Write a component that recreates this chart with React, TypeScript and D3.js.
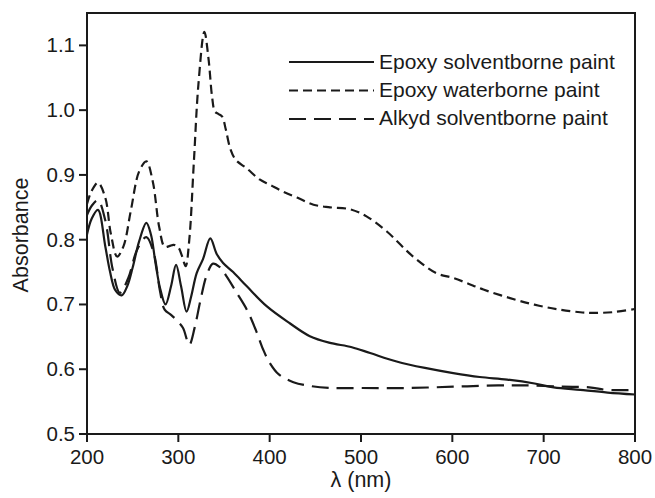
import React from "react";
import * as d3 from "d3";

// ---- data ----
const solidLambda = [200, 205, 212, 220, 225, 231, 238, 244, 250, 257, 265, 270, 275, 280, 286, 292, 297.5, 303, 309, 314, 320, 327, 335, 342, 349, 360, 375, 397, 422, 444, 465, 490, 510, 539, 570, 601, 630, 660, 690, 711, 740, 770, 800];
const solidValues = [0.808, 0.832, 0.846, 0.790, 0.752, 0.722, 0.714, 0.728, 0.757, 0.797, 0.826, 0.808, 0.764, 0.725, 0.700, 0.728, 0.761, 0.728, 0.689, 0.712, 0.748, 0.770, 0.802, 0.778, 0.764, 0.750, 0.728, 0.697, 0.671, 0.651, 0.641, 0.634, 0.625, 0.612, 0.602, 0.594, 0.588, 0.584, 0.578, 0.572, 0.568, 0.564, 0.561];

const waterLambda = [200, 205, 212, 220, 226, 233, 240, 248, 257, 265, 272, 279, 285, 290, 295, 300, 304, 308, 312, 317, 322, 328.5, 333, 337, 340, 344, 348, 352, 357, 363, 375, 389, 400, 415, 430, 448, 466, 488, 506, 528, 557, 583, 601, 616, 634, 670, 695, 718, 740, 754, 775, 800];
const waterValues = [0.855, 0.875, 0.888, 0.865, 0.810, 0.774, 0.790, 0.845, 0.905, 0.921, 0.890, 0.820, 0.789, 0.790, 0.792, 0.788, 0.775, 0.759, 0.800, 0.920, 1.040, 1.121, 1.080, 1.020, 0.998, 0.994, 0.990, 0.970, 0.940, 0.923, 0.910, 0.893, 0.885, 0.874, 0.865, 0.854, 0.850, 0.847, 0.836, 0.813, 0.774, 0.748, 0.741, 0.733, 0.723, 0.707, 0.698, 0.692, 0.688, 0.687, 0.688, 0.693];

const alkydLambda = [200, 205, 212, 220, 228, 236, 245, 255, 265, 273, 280, 285, 292, 298, 305, 312, 318, 324, 331, 338, 345, 353, 363, 375, 385, 393, 400, 410, 426, 445, 466, 500, 550, 601, 650, 681, 720, 750, 770, 800];
const alkydValues = [0.838, 0.852, 0.861, 0.830, 0.755, 0.718, 0.740, 0.785, 0.804, 0.780, 0.720, 0.692, 0.684, 0.676, 0.664, 0.638, 0.665, 0.705, 0.745, 0.763, 0.758, 0.743, 0.720, 0.692, 0.660, 0.630, 0.610, 0.592, 0.580, 0.574, 0.571, 0.571, 0.571, 0.573, 0.575, 0.575, 0.573, 0.572, 0.568, 0.568];

const xTicks = [200, 300, 400, 500, 600, 700, 800];
const yTicks = [0.5, 0.6, 0.7, 0.8, 0.9, 1.0, 1.1];
const seriesNames = ["Epoxy solventborne paint", "Epoxy waterborne paint", "Alkyd solventborne paint"];
const seriesDash = ["", "9,5", "17,8"];

export default function App() {
  const W = 655, H = 498;
  const left = 87, right = 635, top = 13, bottom = 434;
  const x = d3.scaleLinear().domain([200, 800]).range([left, right]);
  const y = d3.scaleLinear().domain([0.5, 1.15]).range([bottom, top]);
  const line = d3
    .line<[number, number]>()
    .x((d) => x(d[0]))
    .y((d) => y(d[1]))
    .curve(d3.curveCatmullRom.alpha(0.5));

  const series = [
    { lam: solidLambda, val: solidValues },
    { lam: waterLambda, val: waterValues },
    { lam: alkydLambda, val: alkydValues },
  ];
  const font = "'Liberation Sans', Arial, Helvetica, sans-serif";
  const col = "#1a1a1a";

  return (
    <svg width={W} height={H} style={{ position: "absolute", left: 0, top: 0, background: "#fff" }} fontFamily={font}>
      <rect x={0} y={0} width={W} height={H} fill="#fff" />
      <defs>
        <clipPath id="plotclip">
          <rect x={left} y={top} width={right - left} height={bottom - top} />
        </clipPath>
      </defs>
      <g clipPath="url(#plotclip)">
        {series.map((s, i) => (
          <path
            key={i}
            d={line(s.lam.map((l, j) => [l, s.val[j]] as [number, number])) || ""}
            fill="none"
            stroke={col}
            strokeWidth={2.2}
            strokeDasharray={seriesDash[i] || undefined}
          />
        ))}
      </g>
      <rect x={left} y={top} width={right - left} height={bottom - top} fill="none" stroke={col} strokeWidth={2} />
      {xTicks.map((t) => (
        <g key={t}>
          <line x1={x(t)} x2={x(t)} y1={bottom} y2={bottom + 8} stroke={col} strokeWidth={2} />
          <text x={x(t)} y={463.5} textAnchor="middle" fontSize={20.5} fill={col}>
            {t}
          </text>
        </g>
      ))}
      {yTicks.map((t) => (
        <g key={t}>
          <line x1={left - 8} x2={left} y1={y(t)} y2={y(t)} stroke={col} strokeWidth={2} />
          <text x={75} y={y(t) + 7} textAnchor="end" fontSize={20.5} fill={col}>
            {t.toFixed(1)}
          </text>
        </g>
      ))}
      <text x={361} y={487} textAnchor="middle" fontSize={21.5} fill={col}>
        λ (nm)
      </text>
      <text transform="translate(28,235) rotate(-90)" textAnchor="middle" fontSize={21.5} fill={col}>
        Absorbance
      </text>
      {seriesNames.map((n, i) => (
        <g key={n}>
          <line
            x1={289}
            x2={374}
            y1={62 + i * 28.5}
            y2={62 + i * 28.5}
            stroke={col}
            strokeWidth={2.2}
            strokeDasharray={seriesDash[i] || undefined}
          />
          <text x={379} y={69 + i * 28} fontSize={21} fill={col}>
            {n}
          </text>
        </g>
      ))}
    </svg>
  );
}
